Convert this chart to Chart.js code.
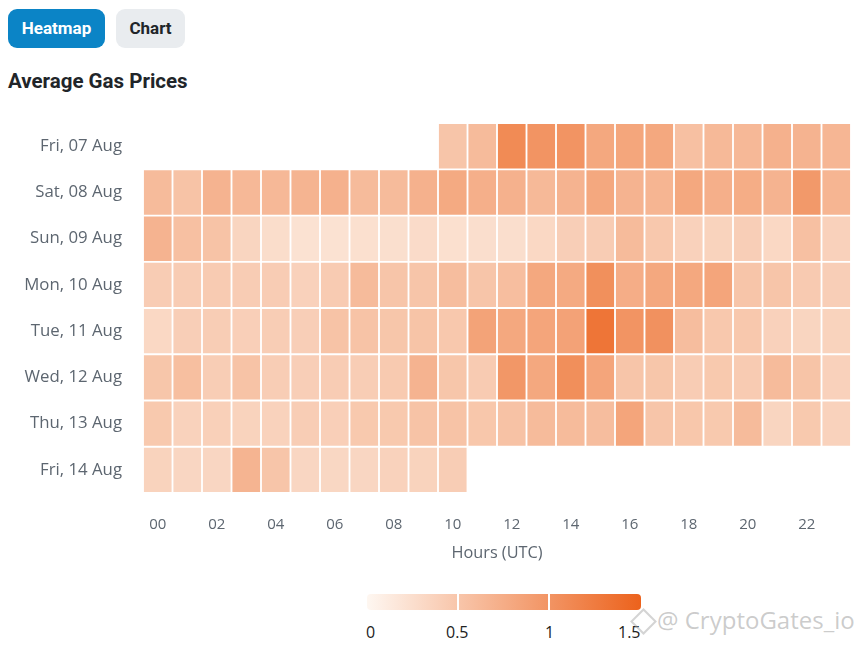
<!DOCTYPE html>
<html>
<head>
<meta charset="utf-8">
<script src="https://cdn.jsdelivr.net/npm/chart.js@4.4.1/dist/chart.umd.min.js"></script>
<style>
  html, body { margin: 0; padding: 0; background: #fff; }
  body { width: 866px; height: 645px; position: relative; overflow: hidden; font-family: Roboto, "Open Sans", sans-serif; }
  .btn { position: absolute; top: 9px; height: 39px; border-radius: 9px; font-family: Roboto, sans-serif; font-weight: 700; font-size: 17px; line-height: 38px; text-align: center; }
  #b1 { left: 8px; width: 97px; background: #0b84c6; color: #fff; }
  #b2 { left: 116px; width: 69px; background: #e9ecef; color: #212529; }
  #title { position: absolute; left: 8px; top: 69px; font-family: Roboto, sans-serif; font-weight: 700; font-size: 20.5px; color: #212529; }
  #wrap { position: absolute; left: 0; top: 92px; width: 866px; height: 488px; }
  #legend { position: absolute; left: 367px; top: 594px; width: 274px; height: 16px; border-radius: 4px;
    background: linear-gradient(to right, rgb(254,247,241), rgb(236,98,28)); }
  .sep { position: absolute; top: 0; width: 2px; height: 16px; background: #fff; }
  .lab { position: absolute; top: 621px; font-family: "Open Sans", sans-serif; font-size: 16px; color: #222; }
  #wm { position: absolute; left: 657px; top: 603px; font-family: "Open Sans", sans-serif; font-size: 24px; color: rgba(160,160,160,0.55); }
  #logo { position: absolute; left: 634px; top: 612px; width: 15px; height: 15px; border: 2px solid rgba(170,170,170,0.5); transform: rotate(45deg); }
</style>
</head>
<body>
<div class="btn" id="b1">Heatmap</div>
<div class="btn" id="b2">Chart</div>
<div id="title">Average Gas Prices</div>
<div id="wrap"><canvas id="c"></canvas></div>
<div id="legend"><div class="sep" style="left:90px"></div><div class="sep" style="left:181px"></div></div>
<div class="lab" style="left:366px">0</div>
<div class="lab" style="left:446px">0.5</div>
<div class="lab" style="left:545px">1</div>
<div class="lab" style="left:618px">1.5</div>
<div id="logo"></div>
<div id="wm">@ CryptoGates_io</div>
<script>
const days = ['Fri, 07 Aug','Sat, 08 Aug','Sun, 09 Aug','Mon, 10 Aug','Tue, 11 Aug','Wed, 12 Aug','Thu, 13 Aug','Fri, 14 Aug'];
const hourLabels = ['00','01','02','03','04','05','06','07','08','09','10','11','12','13','14','15','16','17','18','19','20','21','22','23'];
const shownHours = [0,2,4,6,8,10,12,14,16,18,20,22];

const fri07 = [null,null,null,null,null,null,null,null,null,null,0.5,0.6,1.1,1.0,1.0,0.8,0.82,0.8,0.55,0.62,0.63,0.7,0.68,0.65];
const sat08 = [0.6,0.52,0.68,0.63,0.63,0.67,0.7,0.6,0.6,0.7,0.78,0.72,0.7,0.62,0.68,0.8,0.68,0.66,0.8,0.72,0.75,0.68,0.95,0.66];
const sun09 = [0.68,0.55,0.52,0.33,0.25,0.2,0.2,0.22,0.23,0.27,0.22,0.24,0.24,0.3,0.4,0.42,0.6,0.47,0.37,0.35,0.4,0.3,0.55,0.37];
const mon10 = [0.42,0.42,0.43,0.42,0.42,0.37,0.43,0.6,0.5,0.5,0.58,0.5,0.57,0.8,0.78,1.05,0.74,0.8,0.8,0.83,0.5,0.5,0.44,0.4];
const tue11 = [0.3,0.4,0.41,0.39,0.41,0.4,0.52,0.52,0.49,0.51,0.47,0.85,0.8,0.83,0.86,1.32,1.0,1.03,0.58,0.47,0.47,0.37,0.33,0.35];
const wed12 = [0.49,0.56,0.41,0.52,0.41,0.4,0.42,0.41,0.45,0.68,0.49,0.43,0.97,0.8,1.06,0.83,0.5,0.49,0.42,0.46,0.43,0.6,0.51,0.37];
const thu13 = [0.46,0.36,0.38,0.35,0.36,0.41,0.39,0.46,0.46,0.52,0.52,0.48,0.53,0.6,0.6,0.58,0.83,0.5,0.48,0.46,0.6,0.33,0.46,0.36];
const fri14 = [0.35,0.32,0.32,0.67,0.5,0.32,0.31,0.32,0.36,0.35,0.41,null,null,null,null,null,null,null,null,null,null,null,null,null];

const rows = [fri07, sat08, sun09, mon10, tue11, wed12, thu13, fri14];

function colorFor(v) {
  const t = Math.max(0, Math.min(1, v / 1.5));
  const r = Math.round(253 + (236 - 253) * t);
  const g = Math.round(245 + (100 - 245) * t);
  const b = Math.round(238 + (30 - 238) * t);
  return `rgb(${r},${g},${b})`;
}

const datasets = hourLabels.map((lbl, h) => ({
  label: lbl,
  data: rows.map(r => (r[h] == null ? null : [h, h + 1])),
  backgroundColor: rows.map(r => (r[h] == null ? 'rgba(0,0,0,0)' : colorFor(r[h]))),
  borderColor: '#ffffff',
  borderWidth: 1.25,
  borderSkipped: false,
  barPercentage: 1,
  categoryPercentage: 1,
  grouped: false
}));

const tickColor = '#5d6670';

new Chart(document.getElementById('c'), {
  type: 'bar',
  data: { labels: days, datasets },
  options: {
    indexAxis: 'y',
    responsive: true,
    maintainAspectRatio: false,
    animation: false,
    layout: { padding: { top: 0, right: 15, left: 0, bottom: 0 } },
    plugins: { legend: { display: false }, tooltip: { enabled: false } },
    scales: {
      y: {
        type: 'category',
        grid: { display: false, drawTicks: false },
        border: { display: false },
        ticks: { color: tickColor, font: { family: 'Open Sans', size: 16.8 }, padding: 21 },
        afterFit(scale) { scale.width = 143; }
      },
      x: {
        type: 'linear',
        min: 0,
        max: 24,
        grid: { display: false, drawTicks: false },
        border: { display: false },
        afterBuildTicks(scale) { scale.ticks = shownHours.map(h => ({ value: h + 0.5 })); },
        ticks: {
          autoSkip: false,
          maxRotation: 0,
          color: tickColor,
          font: { family: 'Open Sans', size: 15 },
          padding: 23,
          callback: (v) => hourLabels[Math.floor(v)]
        },
        title: {
          display: true,
          text: 'Hours (UTC)',
          color: tickColor,
          font: { family: 'Open Sans', size: 16.3 },
          padding: { top: 0, bottom: 17 }
        },
        afterFit(scale) { scale.height = 87; }
      }
    }
  }
});
</script>
</body>
</html>
